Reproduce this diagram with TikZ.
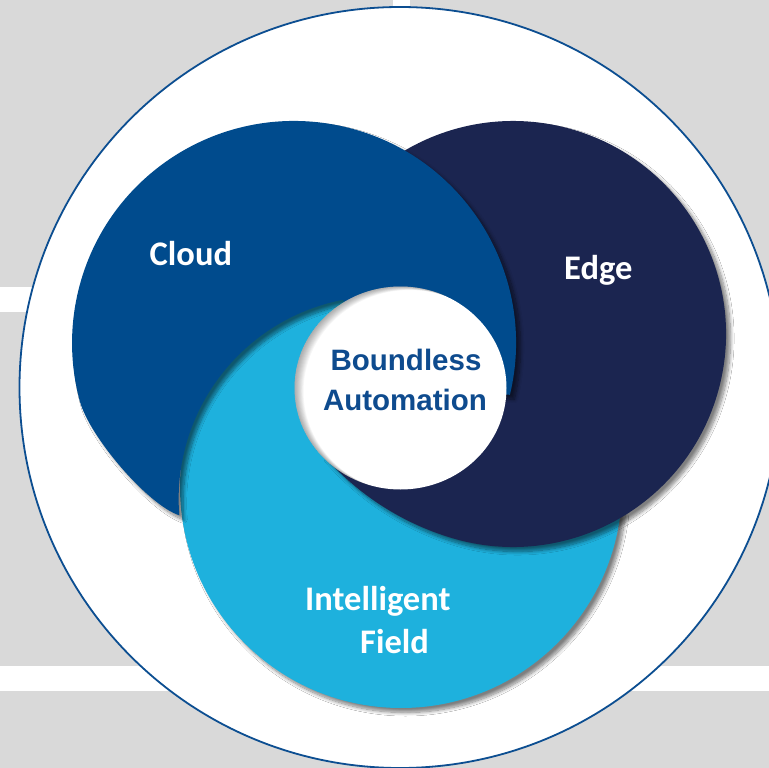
\documentclass[tikz,border=0pt]{standalone}
\usepackage{fontspec}
\setmainfont{Carlito}
\newfontfamily\arialfont{Liberation Sans}
\usetikzlibrary{shadows.blur}
\definecolor{bggray}{RGB}{217,217,217}
\definecolor{ringc}{RGB}{12,78,145}
\definecolor{cloudc}{RGB}{0,75,141}
\definecolor{edgec}{RGB}{27,37,80}
\definecolor{fieldc}{RGB}{30,177,221}
\definecolor{txtblue}{RGB}{14,75,142}
\tikzset{
  shapeshadow/.style={blur shadow={shadow xshift=4.5pt, shadow yshift=-4.5pt, shadow blur radius=3.5pt, shadow blur steps=10, shadow opacity=50}},
  lbl/.style={text=white, font=\bfseries\fontsize{34.5}{40}\selectfont, inner sep=0pt, anchor=base west},
  ctr/.style={text=txtblue, font=\arialfont\bfseries\fontsize{29.5}{36}\selectfont, inner sep=0pt, anchor=base}
}
\begin{document}
\begin{tikzpicture}[x=1pt,y=-1pt]
\useasboundingbox (0,0) rectangle (769,768);
\clip (0,0) rectangle (769,768);
% background
\fill[bggray] (0,0) rectangle (769,768);
\fill[white] (393,0) rectangle (410,20);
\fill[white] (0,287) rectangle (100,312);
\fill[white] (0,666) rectangle (769,691);
% outer ring
\filldraw[fill=white, draw=ringc, line width=1.8pt] (400,387.5) circle (380.5);
% Intelligent Field
\fill[fieldc, shapeshadow] (401,487) circle (221);
% Edge (circle with tail around the centre)
\fill[edgec, shapeshadow] (323,454.9) arc[start angle=139, end angle=106.5, radius=275.2]
  arc[start angle=106.5, end angle=-150, radius=213] -- (360,310) -- (400.5,388) -- cycle;
% Cloud (circle with a bite)
\fill[cloudc, shapeshadow] (179.3,515.3) arc[start angle=175.4, end angle=259, radius=203]
  -- (400.5,388) -- (509.9,394.8) arc[start angle=13.5, end angle=-195, radius=222]
  .. controls (89.4,437) and (148,505) .. (179.3,515.3) -- cycle;
% centre hole
\fill[white] (400.5,388) ellipse [x radius=106, y radius=101.5];
\begin{scope}
  \clip (400.5,388) ellipse [x radius=106, y radius=101.5];
  \foreach \k in {1,...,10}{
    \fill[black, opacity=0.035, even odd rule] (250,250) rectangle (550,550)
      ({400.5+0.9*\k},{388+0.35*\k}) ellipse [x radius=106, y radius=101.5];
  }
\end{scope}
% labels
\node[lbl] (cloud) at (149.5,265.6) {Cloud};
\node[lbl] (edge) at (564,279.4) {Edge};
\node[lbl] (intel) at (305,610.3) {Intelligent};
\node[lbl] (field) at (360,653) {Field};
\node[ctr] (bnd) at (406,370) {Boundless};
\node[ctr] (aut) at (405,410) {Automation};
\end{tikzpicture}
\end{document}
